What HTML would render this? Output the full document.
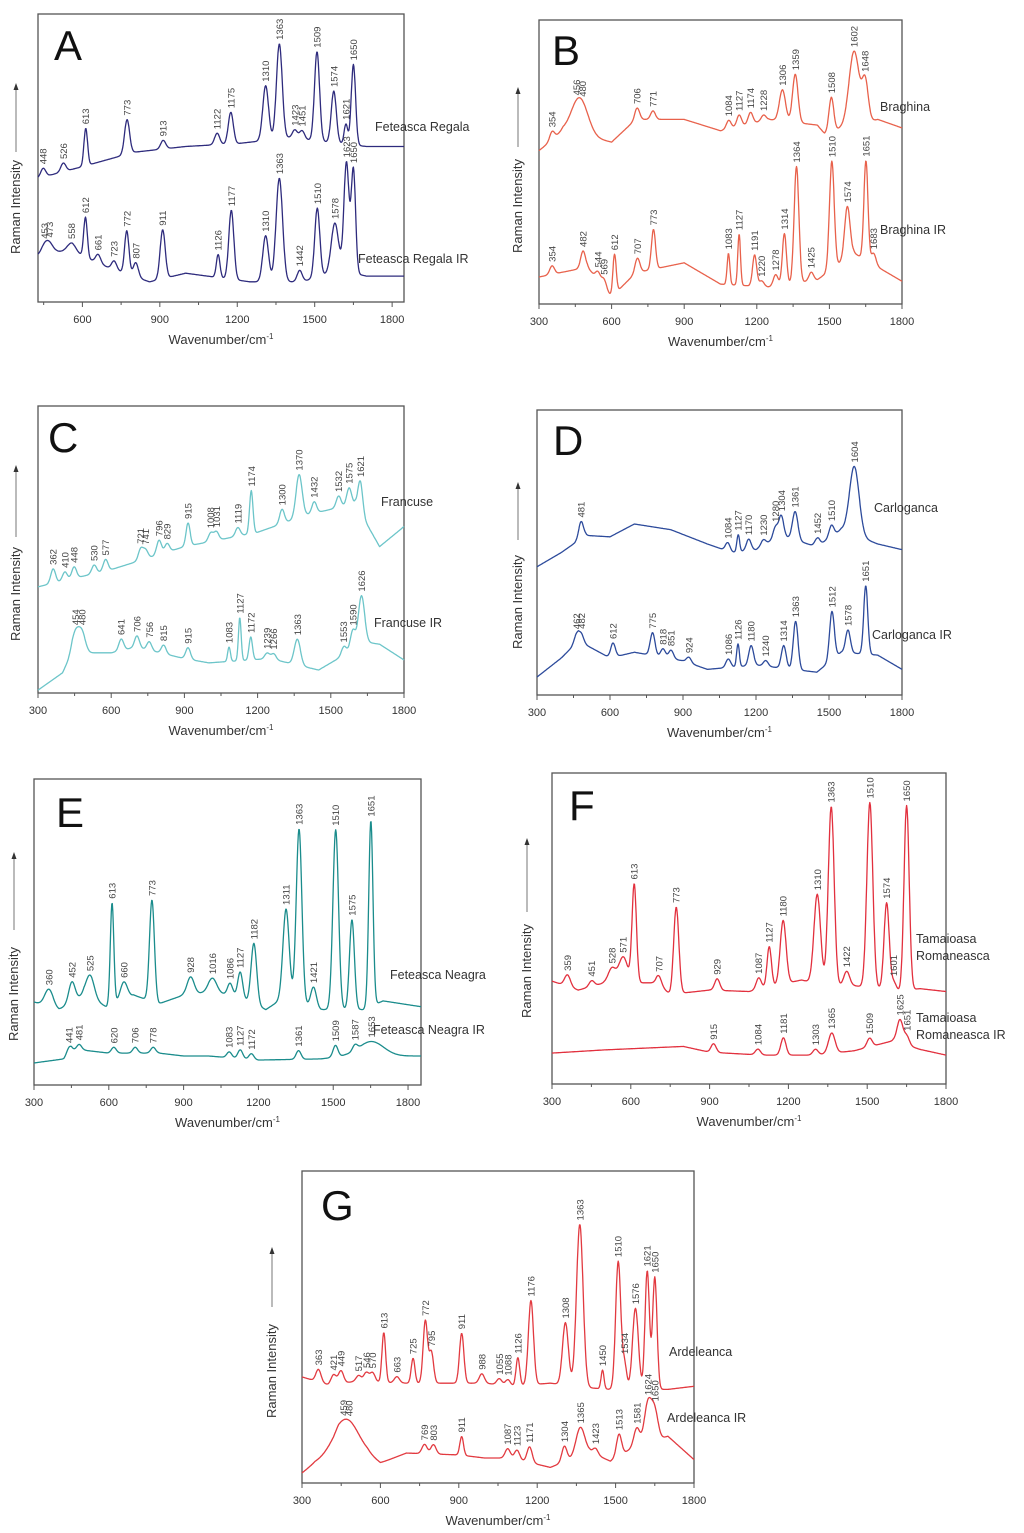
<!DOCTYPE html>
<html><head><meta charset="utf-8">
<style>
html,body{margin:0;padding:0;background:#fff;}
svg{display:block;font-family:"Liberation Sans",sans-serif;}
</style></head>
<body>
<svg id="fig" width="1024" height="1533" viewBox="0 0 1024 1533" xmlns="http://www.w3.org/2000/svg"></svg>
<script>
// ---------- DATA (wavenumber, relative intensity % of plot height) ----------
// Panel A
const aUpperBase=[[430,43],[600,47],[800,52],[1000,54],[1200,55],[1400,57],[1500,56],[1700,54],[1850,54]];
const aUpperPeaks=[[448,3],[526,3],[613,13,5],[773,12,7],[913,3],[1122,4],[1175,11,7],[1310,19,8],[1363,33,8],[1423,3],[1451,3],[1509,31,7],[1574,18,7],[1621,7,5],[1650,28,6]];
const aLowerBase=[[430,16],[500,17.5],[560,17.5],[700,12],[860,7],[1000,10],[1250,7],[1450,7],[1600,11],[1700,9],[1850,9]];
const aLowerPeaks=[[453,3,10],[473,3,10],[558,3,12],[612,14,5],[661,3],[723,3],[772,15,6],[807,5],[911,17,7],[1126,8,5],[1177,24,7],[1310,16,8],[1363,36,9],[1442,4],[1510,24,7],[1578,17,10],[1623,38,7],[1650,36,6]];
// Panel B
const bUpperBase=[[300,54],[400,61],[600,57],[700,65],[900,65],[1050,61],[1250,65],[1450,63],[1480,60],[1550,62],[1700,65],[1800,62]];
const bUpperPeaks=[[354,3],[456,7,22],[480,7,22],[706,4],[771,3],[1084,3],[1127,4],[1174,4],[1228,2],[1306,11,9],[1359,17,8],[1508,12,7],[1602,26,15],[1648,14,9]];
const bLowerBase=[[300,9.5],[500,13],[600,2.5],[700,11],[900,14.5],[1050,7],[1250,6],[1450,8.5],[1600,18],[1700,13],[1800,8]];
const bLowerPeaks=[[354,3],[482,6],[544,3],[569,3],[612,14,5],[707,5],[773,14,6],[1083,11,4],[1127,18,4],[1191,11,6],[1220,2],[1278,4],[1314,18,6],[1364,41,7],[1425,3],[1510,38,7],[1574,18,8],[1651,35,6],[1683,4]];
// Panel C
const cUpperBase=[[300,37],[600,43],[900,51],[1200,56],[1400,62],[1600,66],[1700,51],[1800,58]];
const cUpperPeaks=[[362,5],[410,3],[448,4],[530,3],[577,4],[721,4],[741,3],[796,5],[829,3],[915,8,6],[1008,3],[1031,3],[1119,3],[1174,15,5],[1300,5],[1370,15,9],[1432,4],[1532,4],[1575,6],[1621,11,7]];
const cLowerBase=[[300,1],[400,7],[440,14],[600,14],[700,16],[900,12],[1000,10.5],[1250,12],[1450,8],[1550,13],[1620,18],[1700,17],[1800,11.5]];
const cLowerPeaks=[[454,7,10],[480,7,10],[641,4],[706,4],[756,3],[815,3],[915,4],[1083,5,4],[1127,15,4],[1172,8,5],[1239,2],[1266,2],[1363,9,9],[1553,3],[1590,6],[1626,16,9]];
// Panel D
const dUpperBase=[[300,45],[400,50],[500,56],[600,55.5],[700,60],[850,58],[1000,53],[1100,50],[1200,51],[1300,56],[1450,52],[1550,58],[1700,53],[1800,51]];
const dUpperPeaks=[[481,6],[1084,3],[1127,6,4],[1170,4],[1230,2],[1280,4],[1304,7],[1361,10,8],[1452,3],[1510,4],[1604,24,14]];
const dLowerBase=[[300,6.3],[400,13],[470,19],[600,13],[700,15],[900,12],[1000,9],[1200,10.5],[1450,8],[1550,15],[1700,14],[1800,9]];
const dLowerPeaks=[[462,3],[482,3],[612,5],[775,8],[818,3],[851,3],[924,2],[1086,3],[1126,8,4],[1180,7],[1240,2],[1314,8],[1363,17,7],[1512,17,7],[1578,8],[1651,24,6]];
// Panel E
const eUpperBase=[[300,28.6],[400,26],[500,31],[590,27],[700,31],[800,28],[900,31],[1000,32],[1100,31],[1230,26],[1300,30],[1450,26],[1620,26],[1700,29],[1852,27]];
const eUpperPeaks=[[360,6,12],[452,7,9],[525,8,12],[613,35,5],[660,6,10],[773,35,7],[928,6,10],[1016,5,12],[1086,4],[1127,9,7],[1182,21,8],[1311,31,9],[1363,60,8],[1421,7,8],[1510,62,8],[1575,31,7],[1651,64,6]];
const eLowerBase=[[300,7.6],[420,9],[450,12],[500,12],[600,11],[800,11],[900,10],[1000,10],[1200,8.6],[1450,9],[1550,10],[1750,10],[1852,10]];
const eLowerPeaks=[[441,2],[481,2],[620,2],[706,2],[778,2],[1083,2],[1127,3],[1172,2],[1361,3],[1509,4],[1587,2],[1653,5,35]];
// Panel F
const fUpperBase=[[300,35.6],[400,32.5],[500,35],[700,35],[750,31],[900,32.5],[1050,32],[1250,36],[1340,34],[1450,34],[1550,33],[1620,32],[1700,33],[1800,32]];
const fUpperPeaks=[[359,4,8],[451,2],[528,5,10],[571,9,12],[613,34,6],[707,3],[773,30,7],[929,4],[1087,4],[1127,14,6],[1180,22,8],[1310,31,9],[1363,62,8],[1422,5,8],[1510,64,8],[1574,30,7],[1601,3],[1650,64,7]];
const fLowerBase=[[300,10.7],[500,11.8],[800,13],[900,11],[1100,10],[1300,10],[1450,11.5],[1600,15],[1700,12],[1800,10]];
const fLowerPeaks=[[915,3],[1084,2],[1181,6,7],[1303,2],[1365,7,9],[1509,3],[1625,8,8],[1651,3]];
// Panel G
const gUpperBase=[[300,34],[400,31.5],[500,32.5],[700,32],[850,32],[1000,32],[1100,31],[1250,32],[1400,30.5],[1480,30],[1700,30],[1800,31]];
const gUpperPeaks=[[363,4],[421,3],[449,4],[517,2],[546,3],[570,3],[613,16,5],[663,2],[725,8,5],[772,20,6],[795,10,6],[911,16,6],[988,3],[1055,2],[1088,2],[1126,9,5],[1176,27,7],[1308,20,8],[1363,52,9],[1450,6,4],[1510,41,7],[1534,8,6],[1576,26,8],[1621,38,6],[1650,36,6]];
const gLowerBase=[[300,3.2],[350,6.4],[420,8.5],[440,10],[550,9],[600,6.4],[700,9.6],[900,9],[1000,8],[1100,8],[1250,5],[1400,10],[1480,7],[1560,11],[1700,15],[1800,7.5]];
const gLowerPeaks=[[459,6,35],[480,5,30],[769,3],[803,3],[911,6,5],[1087,3],[1123,3],[1171,5,7],[1304,5,7],[1365,9,12],[1423,2],[1513,7,7],[1581,6,8],[1624,13,10],[1650,9,9]];

// ---------- PANEL LAYOUT ----------
const panels=[
 {id:'a',letter:'A',x0:38,x1:404,top:14,dataTop:14,bot:302,wmin:428,wmax:1846,ticks:[600,900,1200,1500,1800],color:'#2e2b7d',letterPos:[54,60],yt:[16,203],arrow:[83,152],
  series:[{name:'Feteasca Regala',base:aUpperBase,peaks:aUpperPeaks,lab:[[375,131]]},{name:'Feteasca Regala IR',base:aLowerBase,peaks:aLowerPeaks,lab:[[358,263]]}]},
 {id:'b',letter:'B',x0:539,x1:902,top:20,dataTop:20,bot:304,wmin:300,wmax:1800,ticks:[300,600,900,1200,1500,1800],color:'#e8614b',letterPos:[552,65],yt:[518,202],arrow:[87,147],
  series:[{name:'Braghina',base:bUpperBase,peaks:bUpperPeaks,lab:[[880,111]]},{name:'Braghina IR',base:bLowerBase,peaks:bLowerPeaks,lab:[[880,234]]}]},
 {id:'c',letter:'C',x0:38,x1:404,top:406,dataTop:406,bot:693,wmin:300,wmax:1800,ticks:[300,600,900,1200,1500,1800],color:'#6cc5c9',letterPos:[48,452],yt:[16,590],arrow:[465,537],
  series:[{name:'Francuse',base:cUpperBase,peaks:cUpperPeaks,lab:[[381,506]]},{name:'Francuse IR',base:cLowerBase,peaks:cLowerPeaks,lab:[[374,627]]}]},
 {id:'d',letter:'D',x0:537,x1:902,top:410,dataTop:410,bot:695,wmin:300,wmax:1800,ticks:[300,600,900,1200,1500,1800],color:'#2c4a9b',letterPos:[553,455],yt:[518,598],arrow:[482,540],
  series:[{name:'Carloganca',base:dUpperBase,peaks:dUpperPeaks,lab:[[874,512]]},{name:'Carloganca IR',base:dLowerBase,peaks:dLowerPeaks,lab:[[872,639]]}]},
 {id:'e',letter:'E',x0:34,x1:421,top:779,dataTop:795,bot:1085,wmin:300,wmax:1852,ticks:[300,600,900,1200,1500,1800],color:'#1a8c8c',letterPos:[56,827],yt:[14,990],arrow:[852,930],
  series:[{name:'Feteasca Neagra',base:eUpperBase,peaks:eUpperPeaks,lab:[[390,979]]},{name:'Feteasca Neagra IR',base:eLowerBase,peaks:eLowerPeaks,lab:[[373,1034]]}]},
 {id:'f',letter:'F',x0:552,x1:946,top:773,dataTop:795,bot:1084,wmin:300,wmax:1800,ticks:[300,600,900,1200,1500,1800],color:'#e2303e',letterPos:[569,820],yt:[527,967],arrow:[838,912],
  series:[{name:'Tamaioasa Romaneasca',base:fUpperBase,peaks:fUpperPeaks,lab:[[916,943,'Tamaioasa'],[916,960,'Romaneasca']]},{name:'Tamaioasa Romaneasca IR',base:fLowerBase,peaks:fLowerPeaks,lab:[[916,1022,'Tamaioasa'],[916,1039,'Romaneasca IR']]}]},
 {id:'g',letter:'G',x0:302,x1:694,top:1171,dataTop:1171,bot:1483,wmin:300,wmax:1800,ticks:[300,600,900,1200,1500,1800],color:'#e23a40',letterPos:[321,1220],yt:[272,1367],arrow:[1247,1307],
  series:[{name:'Ardeleanca',base:gUpperBase,peaks:gUpperPeaks,lab:[[669,1356]]},{name:'Ardeleanca IR',base:gLowerBase,peaks:gLowerPeaks,lab:[[667,1422]]}]}
];

const WIDTH_FACTOR=1.4;
const NS='http://www.w3.org/2000/svg';
const svg=document.getElementById('fig');
function mk(tag,attrs,parent){const e=document.createElementNS(NS,tag);for(const k in attrs)e.setAttribute(k,attrs[k]);(parent||svg).appendChild(e);return e;}
function interp(base,w){if(w<=base[0][0])return base[0][1];for(let i=1;i<base.length;i++){if(w<=base[i][0]){const a=base[i-1],b=base[i];return a[1]+(b[1]-a[1])*(w-a[0])/(b[0]-a[0]);}}return base[base.length-1][1];}
function intensity(s,w){let v=interp(s.base,w);for(const p of s.peaks){const sg=(p[2]||7)*WIDTH_FACTOR;v+=p[1]*Math.exp(-0.5*((w-p[0])/sg)*((w-p[0])/sg));}return v;}

panels.forEach(P=>{
  const g=mk('g',{});
  
  
  const xs=w=>P.x0+(w-P.wmin)/(P.wmax-P.wmin)*(P.x1-P.x0);
  const ys=v=>P.bot-v/100*(P.bot-P.dataTop);
  const frame=mk('rect',{x:P.x0,y:P.top,width:P.x1-P.x0,height:P.bot-P.top,fill:'none',stroke:'#555','stroke-width':1.3},g);
  
  
  const step=(P.ticks[1]-P.ticks[0])/2;
  for(let t=Math.ceil(P.wmin/step)*step;t<=P.wmax;t+=step){
    const major=P.ticks.includes(t);
    const tk=mk('line',{x1:xs(t),x2:xs(t),y1:P.bot,y2:P.bot+(major?5:3),stroke:'#555','stroke-width':1},g);
    
    
  }
  P.ticks.forEach(t=>{
    const tl=mk('text',{x:xs(t),y:P.bot+21,'text-anchor':'middle','font-size':11,fill:'#333'},g);
    tl.textContent=t;
    
    
  });
  const xt=mk('text',{x:(P.x0+P.x1)/2,y:P.bot+42,'text-anchor':'middle','font-size':13,fill:'#333'},g);
  xt.innerHTML='Wavenumber/cm<tspan dy="-5" font-size="8">-1</tspan>';
  
  
  const yt=mk('text',{x:P.yt[0],y:P.yt[1],'text-anchor':'middle','font-size':13,fill:'#333',transform:'rotate(-90 '+(P.yt[0]+4)+' '+P.yt[1]+')'},g);
  yt.textContent='Raman Intensity';
  
  
  const ar=mk('line',{x1:P.yt[0],x2:P.yt[0],y1:P.arrow[1],y2:P.arrow[0]+5,stroke:'#555','stroke-width':0.8},g);
  
  
  const ah=mk('polygon',{points:(P.yt[0]-2.5)+','+(P.arrow[0]+7)+' '+(P.yt[0]+2.5)+','+(P.arrow[0]+7)+' '+P.yt[0]+','+P.arrow[0],fill:'#333'},g);
  
  
  const L=mk('text',{x:P.letterPos[0],y:P.letterPos[1],'font-size':42,fill:'#111'},g);
  L.textContent=P.letter;
  
  
  P.series.forEach((s,si)=>{
    let d='';
    for(let w=P.wmin;w<=P.wmax;w+=2){d+=(d?'L':'M')+xs(w).toFixed(1)+','+ys(intensity(s,w)).toFixed(1);}
    const path=mk('path',{d:d,fill:'none',stroke:P.color,'stroke-width':1.3,'stroke-linejoin':'round'},g);
    
    
    s.peaks.forEach(p=>{
      const px=xs(p[0]),py=ys(intensity(s,p[0]));
      const t=mk('text',{x:px+3.5,y:py-4,'font-size':9.5,fill:'#444',transform:'rotate(-90 '+(px+3.5)+' '+(py-4)+')'},g);
      t.textContent=p[0];
      
      
    });
    s.lab.forEach(l=>{
      const t=mk('text',{x:l[0],y:l[1],'font-size':12.5,fill:'#333'},g);
      t.textContent=l[2]||s.name;
      
      
    });
  });
});
</script>
</body></html>
